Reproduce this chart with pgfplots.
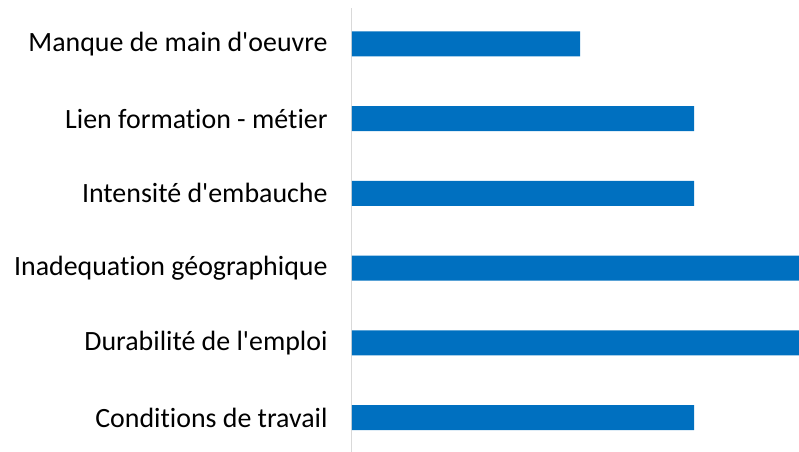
\documentclass[border=0pt]{standalone}
\usepackage{pgfplots}
\pgfplotsset{compat=1.18}
\usepackage{fontspec}
\setmainfont{Carlito}[Ligatures={NoCommon}]
\definecolor{barblue}{HTML}{0070C0}
\definecolor{axisgray}{HTML}{D9D9D9}
\begin{document}
\begin{tikzpicture}
\useasboundingbox (-352bp,0) rectangle (447bp,452bp);
\begin{axis}[
    scale only axis,
    width=447bp, height=444bp,
    xbar,
    bar width=25bp,
    xmin=0, xmax=3.92,
    ymin=-0.46, ymax=5.48,
    axis x line=none,
    axis y line*=left,
    y axis line style={draw=axisgray, line width=1pt, -},
    ytick={0,1,2,3,4,5},
    yticklabels={Conditions de travail, Durabilité de l\textquotesingle emploi, Inadequation géographique, Intensité d\textquotesingle embauche, Lien formation - métier, Manque de main d\textquotesingle oeuvre},
    ytick style={draw=none},
    yticklabel style={font=\fontsize{28}{32}\selectfont, anchor=east, inner sep=0pt, xshift=-20bp},
]
\addplot[draw=none, fill=barblue] coordinates {
    (3,0) (4,1) (4,2) (3,3) (3,4) (2,5)
};
\end{axis}
\end{tikzpicture}
\end{document}
